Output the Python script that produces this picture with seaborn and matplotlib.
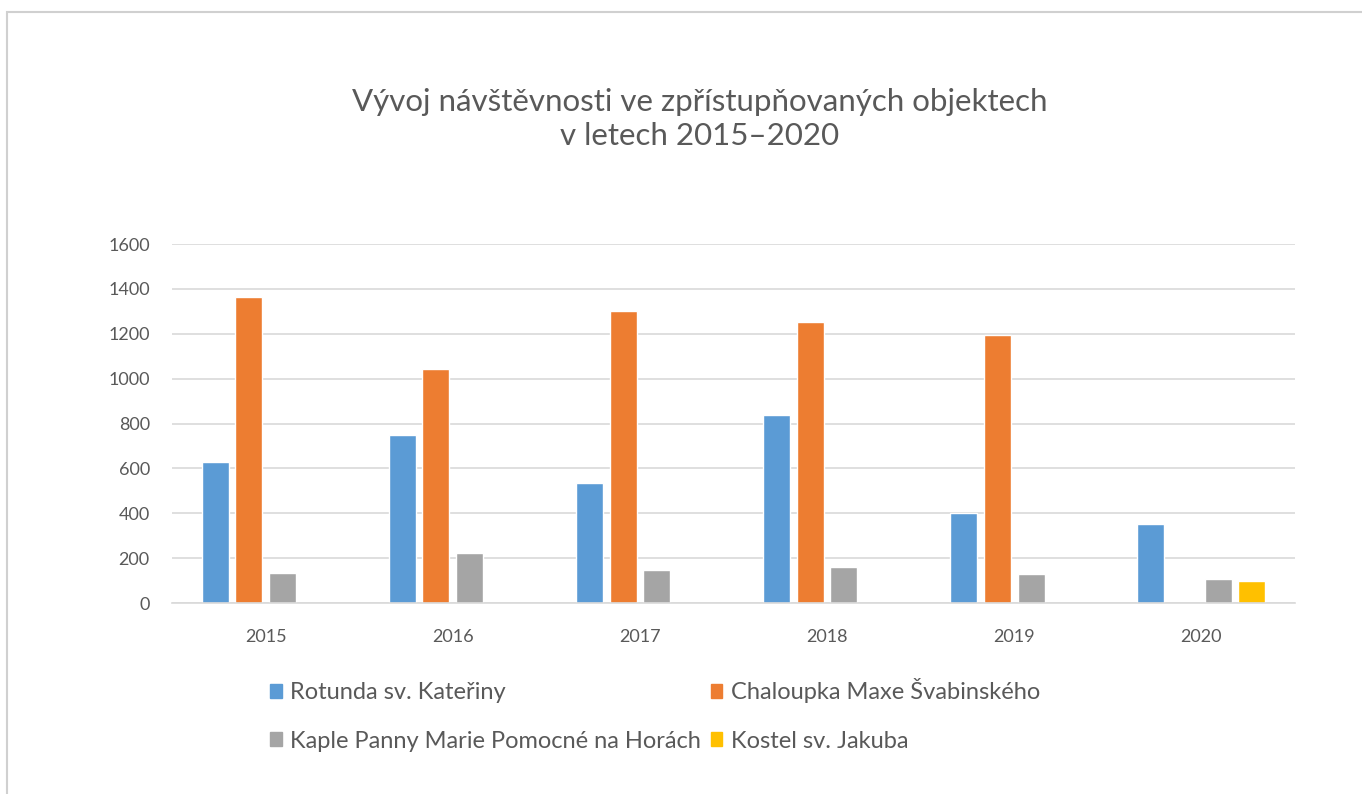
import numpy as np
import pandas as pd
import matplotlib
matplotlib.use('Agg')
import matplotlib.pyplot as plt
import seaborn as sns
from matplotlib.patches import Rectangle

# data
years = ['2015', '2016', '2017', '2018', '2019', '2020']
rotunda = [630, 750, 535, 840, 400, 352]
chaloupka = [1365, 1043, 1303, 1254, 1194, np.nan]
kaple = [134, 225, 148, 159, 129, 107]
kostel = [np.nan, np.nan, np.nan, np.nan, np.nan, 96]

series = ['Rotunda sv. Kateřiny', 'Chaloupka Maxe Švabinského',
          'Kaple Panny Marie Pomocné na Horách', 'Kostel sv. Jakuba']
colors = ['#5B9BD5', '#ED7D31', '#A5A5A5', '#FFC000']

rows = []
for name, vals in zip(series, [rotunda, chaloupka, kaple, kostel]):
    for y, v in zip(years, vals):
        rows.append({'rok': y, 'objekt': name, 'pocet': v})
df = pd.DataFrame(rows)

sns.set_theme(style='white')
plt.rcParams['font.family'] = ['Lato', 'DejaVu Sans']
txt = '#595959'

fig = plt.figure(figsize=(13.62, 7.94), dpi=100)
ax = fig.add_axes([172/1362, 1-603/794, (1295-172)/1362, (603-244)/794])

sns.barplot(data=df, x='rok', y='pocet', hue='objekt', hue_order=series,
            order=years, palette=colors, width=0.72, gap=0.2,
            errorbar=None, legend=False, ax=ax, saturation=1)

ax.set_ylim(0, 1600)
ax.set_xlim(-0.5, 5.5)
ax.set_yticks(range(0, 1601, 200))
ax.yaxis.grid(True, color='#D9D9D9', linewidth=1.2)
ax.set_axisbelow(True)
for s in ['top', 'right', 'left']:
    ax.spines[s].set_visible(False)
ax.spines['bottom'].set_color('#D9D9D9')
ax.spines['bottom'].set_linewidth(1.2)
ax.tick_params(axis='both', length=0, labelsize=13, labelcolor=txt)
ax.tick_params(axis='x', pad=19)
ax.tick_params(axis='y', pad=16)
ax.set_xlabel('')
ax.set_ylabel('')

fig.text(700/1362, 1-119/794, 'Vývoj návštěvnosti ve zpřístupňovaných objektech\nv letech 2015–2020',
         ha='center', va='center', fontsize=22.5, color=txt, linespacing=1.3)

# legend filled row by row like in the original
handles = [Rectangle((0, 0), 1, 1, color=c) for c in colors]
idx = [0, 2, 1, 3]
fig.legend([handles[i] for i in idx], [series[i] for i in idx], loc='center',
           bbox_to_anchor=(655/1362, 1-715/794),
           ncol=2, frameon=False, fontsize=17, labelcolor=txt,
           handlelength=0.5, handleheight=0.5, handletextpad=0.35,
           columnspacing=0.4, labelspacing=1.15)

fig.add_artist(Rectangle((7/1362, -0.1), 1.2, 1 - 12/794 + 0.1, transform=fig.transFigure,
                         fill=False, edgecolor='#D0D0D0', linewidth=1.5))

plt.savefig('out.png', dpi=100)
